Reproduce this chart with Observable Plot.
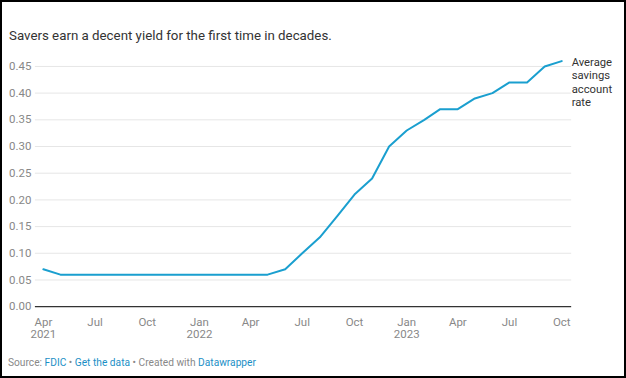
<!DOCTYPE html>
<html><head><meta charset="utf-8">
<script src="https://cdn.jsdelivr.net/npm/d3@7"></script>
<script src="https://cdn.jsdelivr.net/npm/@observablehq/plot@0.6"></script>
<style>
body{margin:0;background:#fff;font-family:Roboto,sans-serif;}
#frame{position:relative;width:626px;height:378px;box-sizing:border-box;border:2px solid #000;overflow:hidden;background:#fff;}
#title{position:absolute;left:7px;top:26px;font-size:13.3px;color:#333;white-space:nowrap;}
#chart{position:absolute;left:-2px;top:46px;}
#footer{position:absolute;left:6px;top:355px;font-size:10.2px;color:#888;white-space:nowrap;}
#footer .l{color:#1b8fc6;}
</style></head>
<body>
<div id="frame">
<div id="title">Savers earn a decent yield for the first time in decades.</div>
<div id="chart"></div>
<div id="footer">Source: <span class="l">FDIC</span> • <span class="l">Get the data</span> • Created with <span class="l">Datawrapper</span></div>
</div>
<script>
const months = ["2021-04","2021-05","2021-06","2021-07","2021-08","2021-09","2021-10","2021-11","2021-12",
"2022-01","2022-02","2022-03","2022-04","2022-05","2022-06","2022-07","2022-08","2022-09","2022-10","2022-11","2022-12",
"2023-01","2023-02","2023-03","2023-04","2023-05","2023-06","2023-07","2023-08","2023-09","2023-10"];
const rates = [0.07,0.06,0.06,0.06,0.06,0.06,0.06,0.06,0.06,
0.06,0.06,0.06,0.06,0.06,0.07,0.10,0.13,0.17,0.21,0.24,0.30,
0.33,0.35,0.37,0.37,0.39,0.40,0.42,0.42,0.45,0.46];
const seriesLabel = "Average\nsavings\naccount\nrate";
const xTickMonths = ["2021-04","2021-07","2021-10","2022-01","2022-04","2022-07","2022-10","2023-01","2023-04","2023-07","2023-10"];
const xTickLabels = ["Apr\n2021","Jul","Oct","Jan\n2022","Apr","Jul","Oct","Jan\n2023","Apr","Jul","Oct"];
const yTicks = [0,0.05,0.10,0.15,0.20,0.25,0.30,0.35,0.40,0.45];

const parse = d3.utcParse("%Y-%m");
const data = months.map((m,i)=>({date:parse(m), rate:rates[i]}));
const xTicks = xTickMonths.map(parse);
const last = data[data.length-1];

const chart = Plot.plot({
  width: 626,
  height: 300,
  marginLeft: 43,
  marginRight: 63,
  marginTop: 18,
  marginBottom: 41,
  style: {fontFamily: "Roboto, sans-serif", background: "transparent"},
  x: {type: "utc", domain: [parse("2021-04"), parse("2023-10")]},
  y: {domain: [0, 0.45]},
  marks: [
    Plot.ruleY(yTicks.filter(d=>d>0), {stroke: "#e6e6e6", strokeWidth: 1, insetLeft: -8, insetRight: -10}),
    Plot.ruleY([0], {stroke: "#333", strokeWidth: 1.2, insetLeft: -8, insetRight: -10}),
    Plot.line(data, {x: "date", y: "rate", stroke: "#1a9fcf", strokeWidth: 2}),
    Plot.text([last], {x: "date", y: "rate", text: () => seriesLabel, textAnchor: "start", lineAnchor: "top",
      dx: 10, dy: -5, fontSize: 11.3, lineHeight: 1.2, fill: "#333"}),
    Plot.axisY({ticks: yTicks, tickSize: 0, tickPadding: 12, tickFormat: d3.format(".2f"), label: null,
      fontSize: 11.5, color: "#888"}),
    Plot.axisX({ticks: xTicks, tickSize: 0, tickPadding: 10, label: null, fontSize: 11.5, color: "#888",
      tickFormat: (d) => xTickLabels[xTicks.findIndex(t => +t === +d)], lineHeight: 1.1})
  ]
});
document.getElementById("chart").appendChild(chart);
</script>
</body></html>
